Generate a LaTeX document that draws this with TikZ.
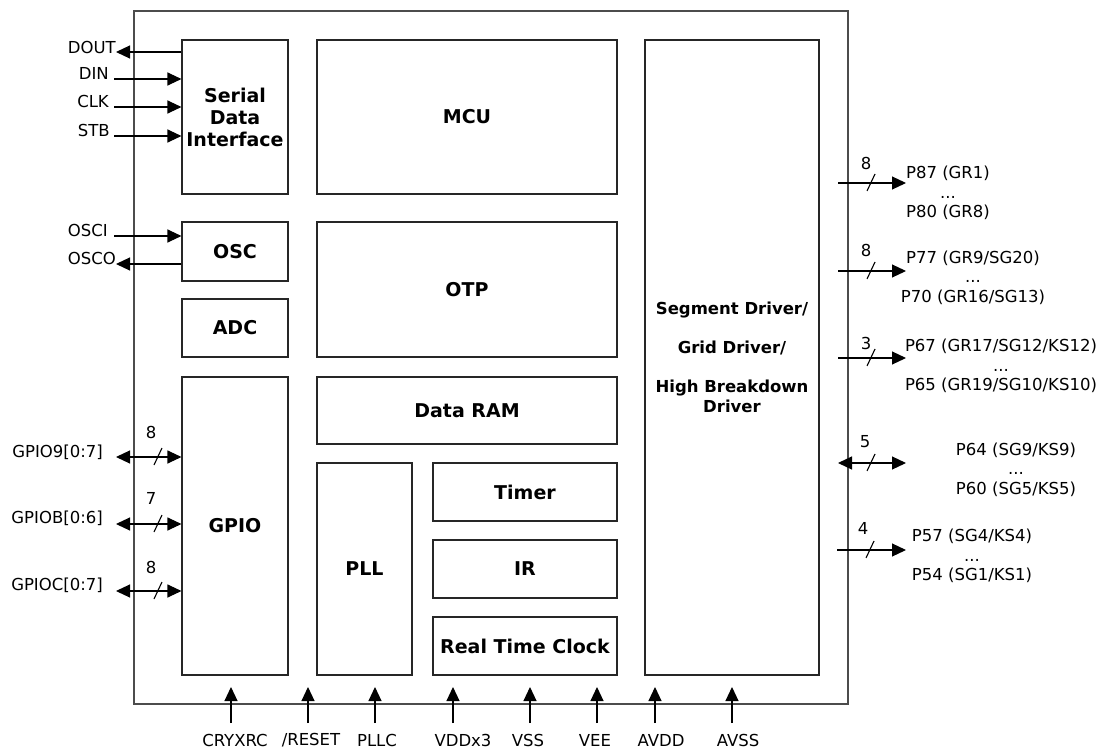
\documentclass[tikz,border=0pt]{standalone}
\usepackage{fontspec}
\setmainfont{DejaVu Sans}
\usetikzlibrary{arrows.meta, positioning}

\begin{document}
\begin{tikzpicture}[
  x=1pt, y=-1pt,
  chip/.style={rectangle, draw=black!70, line width=1.4pt, inner sep=0pt},
  block/.style={rectangle, draw=black!85, line width=1.1pt, inner sep=0pt,
                font=\fontsize{19}{22}\selectfont\bfseries, align=center},
  pinlabel/.style={font=\fontsize{16.5}{19.5}\selectfont, inner sep=0pt, align=center},
  arr/.style={-{Triangle[length=14pt,width=13pt]}, line width=1.1pt},
  biarr/.style={{Triangle[length=14pt,width=13pt]}-{Triangle[length=14pt,width=13pt]}, line width=1.1pt},
  busmark/.style={line width=1.1pt}
]
  \useasboundingbox (0,0) rectangle (1103,749);

  % chip outline and blocks
  \node[chip, minimum width=714pt, minimum height=693pt] (chip) at (491,357.5) {};
  \node[block, minimum width=106pt, minimum height=154pt] (sdi)   at (235,117)   {Serial\\Data\\Interface};
  \node[block, minimum width=106pt, minimum height=59pt]  (osc)   at (235,251.5) {OSC};
  \node[block, minimum width=106pt, minimum height=58pt]  (adc)   at (235,328)   {ADC};
  \node[block, minimum width=106pt, minimum height=298pt] (gpio)  at (235,526)   {GPIO};
  \node[block, minimum width=300pt, minimum height=154pt] (mcu)   at (467,117)   {MCU};
  \node[block, minimum width=300pt, minimum height=135pt] (otp)   at (467,289.5) {OTP};
  \node[block, minimum width=300pt, minimum height=67pt]  (ram)   at (467,410.5) {Data RAM};
  \node[block, minimum width=95pt,  minimum height=212pt] (pll)   at (364.5,569) {PLL};
  \node[block, minimum width=184pt, minimum height=58pt]  (timer) at (525,492)   {Timer};
  \node[block, minimum width=184pt, minimum height=58pt]  (ir)    at (525,569)   {IR};
  \node[block, minimum width=184pt, minimum height=58pt]  (rtc)   at (525,646)   {Real Time Clock};
  \node[block, minimum width=174pt, minimum height=635pt,
        font=\fontsize{16.5}{19.5}\selectfont\bfseries] (seg) at (732,357.5)
        {Segment Driver/\\[19.5pt]Grid Driver/\\[19.5pt]High Breakdown\\Driver};

  % serial interface pins
  \node[pinlabel, anchor=east] (dout) at (116,47)  {DOUT};
  \node[pinlabel, anchor=east] (din)  at (109,73)  {DIN};
  \node[pinlabel, anchor=east] (clk)  at (109,101) {CLK};
  \node[pinlabel, anchor=east] (stb)  at (110,130) {STB};
  \coordinate (dout-pin) at (116,52);
  \coordinate (din-pin)  at (114,79);
  \coordinate (clk-pin)  at (114,107);
  \coordinate (stb-pin)  at (114,136);
  \draw[arr] (dout-pin -| sdi.west) -- (dout-pin);
  \draw[arr] (din-pin) -- (din-pin -| sdi.west);
  \draw[arr] (clk-pin) -- (clk-pin -| sdi.west);
  \draw[arr] (stb-pin) -- (stb-pin -| sdi.west);

  % oscillator pins
  \node[pinlabel, anchor=east] (osci) at (108,230) {OSCI};
  \node[pinlabel, anchor=east] (osco) at (116,258) {OSCO};
  \coordinate (osci-pin) at (114,236);
  \coordinate (osco-pin) at (116,264);
  \draw[arr] (osci-pin) -- (osci-pin -| osc.west);
  \draw[arr] (osco-pin -| osc.west) -- (osco-pin);

  % gpio ports
  \node[pinlabel, anchor=east] (gpio9) at (103,452) {GPIO9[0:7]};
  \node[pinlabel, anchor=east] (gpiob) at (103,518) {GPIOB[0:6]};
  \node[pinlabel, anchor=east] (gpioc) at (103,585) {GPIOC[0:7]};
  \coordinate (gpio9-pin) at (116,457);
  \coordinate (gpiob-pin) at (116,524);
  \coordinate (gpioc-pin) at (116,591);
  \draw[biarr] (gpio9-pin) -- (gpio9-pin -| gpio.west);
  \draw[biarr] (gpiob-pin) -- (gpiob-pin -| gpio.west);
  \draw[biarr] (gpioc-pin) -- (gpioc-pin -| gpio.west);
  \draw[busmark] (gpio9-pin) ++(42,0) +(-4,8) -- +(4,-9);
  \draw[busmark] (gpiob-pin) ++(42,0) +(-4,8) -- +(4,-9);
  \draw[busmark] (gpioc-pin) ++(42,0) +(-4,8) -- +(4,-9);
  \node[pinlabel] (gpio9-w) at (151,432) {8};
  \node[pinlabel] (gpiob-w) at (151,498) {7};
  \node[pinlabel] (gpioc-w) at (151,567) {8};

  % driver ports
  \coordinate (p8x-pin) at (838,183);
  \coordinate (p7x-pin) at (838,271);
  \coordinate (p6h-pin) at (838,358);
  \coordinate (p6l-pin) at (838,463);
  \coordinate (p5x-pin) at (837,550);
  \draw[arr]   (p8x-pin) -- ++(68,0);
  \draw[arr]   (p7x-pin) -- ++(68,0);
  \draw[arr]   (p6h-pin) -- ++(68,0);
  \draw[biarr] (p6l-pin) -- ++(68,0);
  \draw[arr]   (p5x-pin) -- ++(69,0);
  \draw[busmark] (p8x-pin) ++(33,0) +(-4,8) -- +(4,-9);
  \draw[busmark] (p7x-pin) ++(33,0) +(-4,8) -- +(4,-9);
  \draw[busmark] (p6h-pin) ++(33,0) +(-4,8) -- +(4,-9);
  \draw[busmark] (p6l-pin) ++(33,0) +(-4,8) -- +(4,-9);
  \draw[busmark] (p5x-pin) ++(33,0) +(-4,8) -- +(4,-9);
  \node[pinlabel] (p8x-w) at (866,163) {8};
  \node[pinlabel] (p7x-w) at (866,250) {8};
  \node[pinlabel] (p6h-w) at (866,343) {3};
  \node[pinlabel] (p6l-w) at (865,442) {5};
  \node[pinlabel] (p5x-w) at (863,528) {4};
  \node[pinlabel] (p8x) at (948,193)   {P87 (GR1)\\...\\P80 (GR8)};
  \node[pinlabel] (p7x) at (973,277.5) {P77 (GR9/SG20)\\...\\P70 (GR16/SG13)};
  \node[pinlabel] (p6h) at (1001,366)  {P67 (GR17/SG12/KS12)\\...\\P65 (GR19/SG10/KS10)};
  \node[pinlabel] (p6l) at (1016,469.5) {P64 (SG9/KS9)\\...\\P60 (SG5/KS5)};
  \node[pinlabel] (p5x) at (972,556)   {P57 (SG4/KS4)\\...\\P54 (SG1/KS1)};

  % supply and control pins
  \node[pinlabel] (cryxrc) at (235,740) {CRYXRC};
  \node[pinlabel] (reset)  at (311,740) {/RESET};
  \node[pinlabel] (pllc)   at (377,740) {PLLC};
  \node[pinlabel] (vdd)    at (463,740) {VDDx3};
  \node[pinlabel] (vss)    at (528,740) {VSS};
  \node[pinlabel] (vee)    at (595,740) {VEE};
  \node[pinlabel] (avdd)   at (661,740) {AVDD};
  \node[pinlabel] (avss)   at (738,740) {AVSS};
  \coordinate (cryxrc-pin) at (231,723);
  \coordinate (reset-pin)  at (308,723);
  \coordinate (pllc-pin)   at (375,723);
  \coordinate (vdd-pin)    at (453,723);
  \coordinate (vss-pin)    at (530,723);
  \coordinate (vee-pin)    at (597,723);
  \coordinate (avdd-pin)   at (655,723);
  \coordinate (avss-pin)   at (732,723);
  \draw[arr] (cryxrc-pin) -- ++(0,-36);
  \draw[arr] (reset-pin)  -- ++(0,-36);
  \draw[arr] (pllc-pin)   -- ++(0,-36);
  \draw[arr] (vdd-pin)    -- ++(0,-36);
  \draw[arr] (vss-pin)    -- ++(0,-36);
  \draw[arr] (vee-pin)    -- ++(0,-36);
  \draw[arr] (avdd-pin)   -- ++(0,-36);
  \draw[arr] (avss-pin)   -- ++(0,-36);
\end{tikzpicture}
\end{document}
